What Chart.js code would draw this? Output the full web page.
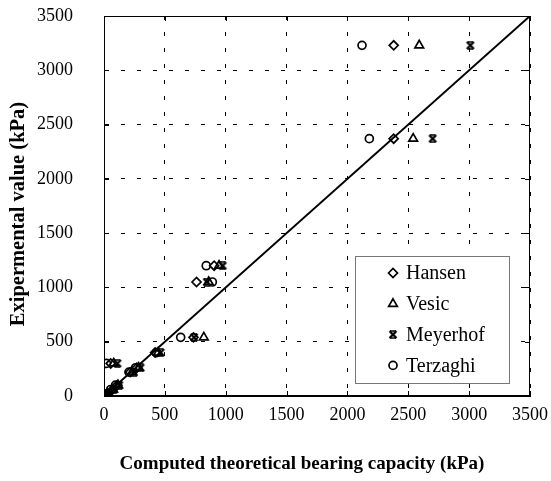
<!DOCTYPE html>
<html lang="en">
<head>
    <meta charset="UTF-8">
    <title>Bearing capacity comparison</title>
    <script src="https://cdn.jsdelivr.net/npm/chart.js"></script>
    <style>
        body { margin: 0; background: #fff; }
        #wrap { width: 551px; height: 481px; position: relative; }
    </style>
</head>
<body>
    <div id="wrap"><canvas id="grafico"></canvas></div>

    <script>
        // experimental values (y) and computed values for each method (x)
        const experimental = [20, 60, 100, 220, 260, 300, 400, 540, 1050, 1200, 2370, 3230];
        const hansen   = [25, 70, 110, 215, 270, 55, 420, 735, 760, 905, 2380, 2380];
        const vesic    = [30, 75, 115, 230, 285, 80, 445, 820, 860, 945, 2540, 2590];
        const meyerhof = [35, 80, 125, 245, 300, 110, 465, 740, 845, 975, 2700, 3010];
        const terzaghi = [15, 55, 95, 205, 260, 20, 430, 630, 890, 840, 2180, 2120];
        const lineEnds = [0, 3500];
        const tickValues = [0, 500, 1000, 1500, 2000, 2500, 3000, 3500];
        const xTitle = 'Computed theoretical bearing capacity (kPa)';
        const yTitle = 'Exipermental value (kPa)';

        function pares(xs) {
            return xs.map((x, i) => ({ x: x, y: experimental[i] }));
        }

        // bold X with small bars top and bottom, for Meyerhof
        function marcaMeyerhof() {
            const c = document.createElement('canvas');
            c.width = 10; c.height = 9;
            const g = c.getContext('2d');
            g.strokeStyle = '#000';
            g.lineWidth = 2.2;
            g.beginPath();
            g.moveTo(1.5, 1); g.lineTo(8.5, 8);
            g.moveTo(8.5, 1); g.lineTo(1.5, 8);
            g.stroke();
            g.lineWidth = 1.6;
            g.beginPath();
            g.moveTo(2, 1); g.lineTo(8, 1);
            g.moveTo(2, 8); g.lineTo(8, 8);
            g.stroke();
            return c;
        }
        const estrela = marcaMeyerhof();

        const serie = (label, data, style, radius) => ({
            label: label,
            data: pares(data),
            showLine: false,
            pointStyle: style,
            pointRadius: radius,
            pointHoverRadius: radius,
            pointBorderColor: '#000',
            pointBackgroundColor: 'rgba(0,0,0,0)',
            pointBorderWidth: 1.7
        });

        const datasets = [
            serie('Hansen', hansen, 'rectRot', 4.5),
            serie('Vesic', vesic, 'triangle', 5),
            serie('Meyerhof', meyerhof, estrela, 5),
            serie('Terzaghi', terzaghi, 'circle', 4),
            {
                label: 'y = x',
                data: lineEnds.map(v => ({ x: v, y: v })),
                showLine: true,
                borderColor: '#000',
                borderWidth: 2,
                pointRadius: 0,
                fill: false
            }
        ];

        // box, inner ticks, axis titles and legend inside the plot
        const moldura = {
            id: 'moldura',
            afterDraw(chart) {
                const { ctx, chartArea: a, scales } = chart;
                ctx.save();
                ctx.strokeStyle = '#000';
                ctx.lineWidth = 1;
                ctx.setLineDash([]);
                ctx.strokeRect(a.left + 0.5, a.top + 0.5, a.right - a.left - 1, a.bottom - a.top - 1);
                ctx.beginPath();
                tickValues.forEach(v => {
                    const px = Math.round(scales.x.getPixelForValue(v)) + 0.5;
                    const py = Math.round(scales.y.getPixelForValue(v)) + 0.5;
                    ctx.moveTo(px, a.bottom); ctx.lineTo(px, a.bottom - 5);
                    ctx.moveTo(px, a.top); ctx.lineTo(px, a.top + 5);
                    ctx.moveTo(a.left, py); ctx.lineTo(a.left + 5, py);
                    ctx.moveTo(a.right, py); ctx.lineTo(a.right - 5, py);
                });
                ctx.stroke();

                // axis titles
                ctx.fillStyle = '#000';
                ctx.textAlign = 'center';
                ctx.textBaseline = 'middle';
                ctx.font = 'bold 19px "Liberation Serif", serif';
                ctx.fillText(xTitle, 302, 464);
                ctx.save();
                ctx.translate(19, 214);
                ctx.rotate(-Math.PI / 2);
                ctx.font = 'bold 20.5px "Liberation Serif", serif';
                ctx.fillText(yTitle, 0, 0);
                ctx.restore();

                // legend box
                const bx = 355, by = 256, bw = 154, bh = 127;
                ctx.fillStyle = '#fff';
                ctx.fillRect(bx, by, bw, bh);
                ctx.strokeStyle = '#777';
                ctx.strokeRect(bx + 0.5, by + 0.5, bw, bh);
                ctx.font = '20px "Liberation Serif", serif';
                ctx.textBaseline = 'middle';
                ctx.textAlign = 'left';
                for (let i = 0; i < 4; i++) {
                    const ds = chart.data.datasets[i];
                    const y = 273 + i * 30.8;
                    ctx.strokeStyle = '#000';
                    ctx.fillStyle = 'rgba(0,0,0,0)';
                    ctx.lineWidth = 1.7;
                    Chart.helpers.drawPoint(ctx, {
                        pointStyle: ds.pointStyle,
                        radius: ds.pointRadius,
                        borderWidth: 1.7,
                        rotation: 0
                    }, 393, y);
                    ctx.fillStyle = '#000';
                    ctx.fillText(ds.label, 406, y + 1);
                }
                ctx.restore();
            }
        };

        const fonteTick = { family: '"Liberation Serif", serif', size: 18 };

        const ctx = document.getElementById('grafico').getContext('2d');
        const grafico = new Chart(ctx, {
            type: 'scatter',
            data: { datasets: datasets },
            options: {
                responsive: true,
                maintainAspectRatio: false,
                animation: false,
                layout: { padding: { left: 0, right: 21, top: 16, bottom: 0 } },
                plugins: {
                    legend: { display: false },
                    tooltip: { enabled: false }
                },
                scales: {
                    x: {
                        type: 'linear',
                        min: 0, max: 3500,
                        afterBuildTicks: axis => { axis.ticks = tickValues.map(v => ({ value: v })); },
                        afterFit: axis => {
                            axis.height = 85;
                            axis.paddingLeft = 0;
                            axis.paddingRight = 0;
                        },
                        grid: { color: '#000', lineWidth: 1, drawTicks: false },
                        border: { display: true, color: '#000', dash: [4, 12] },
                        ticks: { color: '#000', font: fonteTick, padding: 8, maxRotation: 0, callback: v => String(v) },
                        title: { display: false }
                    },
                    y: {
                        type: 'linear',
                        min: 0, max: 3500,
                        afterBuildTicks: axis => { axis.ticks = tickValues.map(v => ({ value: v })); },
                        afterFit: axis => {
                            axis.width = 104;
                            axis.paddingTop = 0;
                            axis.paddingBottom = 0;
                        },
                        grid: { color: '#000', lineWidth: 1, drawTicks: false },
                        border: { display: true, color: '#000', dash: [4, 12] },
                        ticks: { color: '#000', font: fonteTick, padding: 31, callback: v => String(v) },
                        title: { display: false }
                    }
                }
            },
            plugins: [moldura]
        });
    </script>
</body>
</html>
